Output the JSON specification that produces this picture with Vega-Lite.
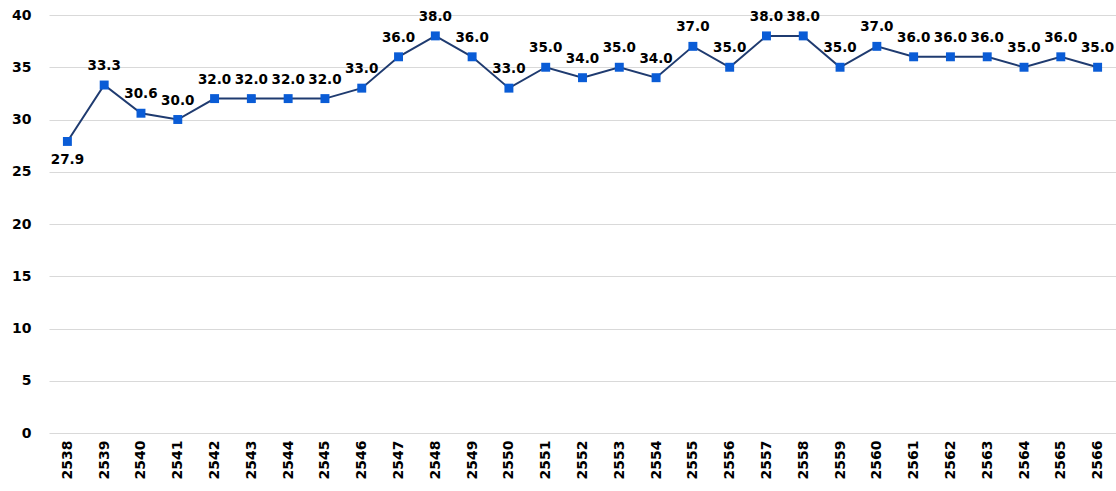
{
  "$schema": "https://vega.github.io/schema/vega-lite/v6.json",
  "width": 1067,
  "height": 418,
  "autosize": {"type": "none"},
  "padding": {"left": 49, "top": 15, "right": 0, "bottom": 58},
  "background": "white",
  "config": {"view": {"stroke": null}},
  "data": {"values": [
    {"year": "2538", "v": 27.9}, {"year": "2539", "v": 33.3}, {"year": "2540", "v": 30.6},
    {"year": "2541", "v": 30.0}, {"year": "2542", "v": 32.0}, {"year": "2543", "v": 32.0},
    {"year": "2544", "v": 32.0}, {"year": "2545", "v": 32.0}, {"year": "2546", "v": 33.0},
    {"year": "2547", "v": 36.0}, {"year": "2548", "v": 38.0}, {"year": "2549", "v": 36.0},
    {"year": "2550", "v": 33.0}, {"year": "2551", "v": 35.0}, {"year": "2552", "v": 34.0},
    {"year": "2553", "v": 35.0}, {"year": "2554", "v": 34.0}, {"year": "2555", "v": 37.0},
    {"year": "2556", "v": 35.0}, {"year": "2557", "v": 38.0}, {"year": "2558", "v": 38.0},
    {"year": "2559", "v": 35.0}, {"year": "2560", "v": 37.0}, {"year": "2561", "v": 36.0},
    {"year": "2562", "v": 36.0}, {"year": "2563", "v": 36.0}, {"year": "2564", "v": 35.0},
    {"year": "2565", "v": 36.0}, {"year": "2566", "v": 35.0}
  ]},
  "encoding": {
    "x": {"field": "year", "type": "ordinal", "scale": {"paddingInner": 0, "paddingOuter": 0},
      "axis": {"title": null, "labelAngle": -90, "labelAlign": "right", "labelBaseline": "middle", "labelFont": "DejaVu Sans", "labelFontWeight": "bold", "labelFontSize": 14, "labelColor": "#000", "labelPadding": 7, "domain": false, "ticks": false, "grid": false}},
    "y": {"field": "v", "type": "quantitative", "scale": {"domain": [0, 40]},
      "axis": {"title": null, "values": [0,5,10,15,20,25,30,35,40], "labelFont": "DejaVu Sans", "labelFontWeight": "bold", "labelFontSize": 14, "labelColor": "#000", "labelPadding": 18, "domain": false, "ticks": false, "gridColor": "#d9d9d9", "gridWidth": 1}}
  },
  "layer": [
    {"mark": {"type": "line", "color": "#1f3b70", "strokeWidth": 2}},
    {"mark": {"type": "square", "color": "#0a5cd6", "opacity": 1, "size": 80, "filled": true}},
    {"transform": [{"filter": "datum.year != '2538'"}],
     "mark": {"type": "text", "dy": -19, "font": "DejaVu Sans", "fontWeight": "bold", "fontSize": 13.5, "color": "#000"},
     "encoding": {"text": {"field": "v", "type": "quantitative", "format": ".1f"}}},
    {"transform": [{"filter": "datum.year == '2538'"}],
     "mark": {"type": "text", "dy": 19, "font": "DejaVu Sans", "fontWeight": "bold", "fontSize": 13.5, "color": "#000"},
     "encoding": {"text": {"field": "v", "type": "quantitative", "format": ".1f"}}}
  ]
}
